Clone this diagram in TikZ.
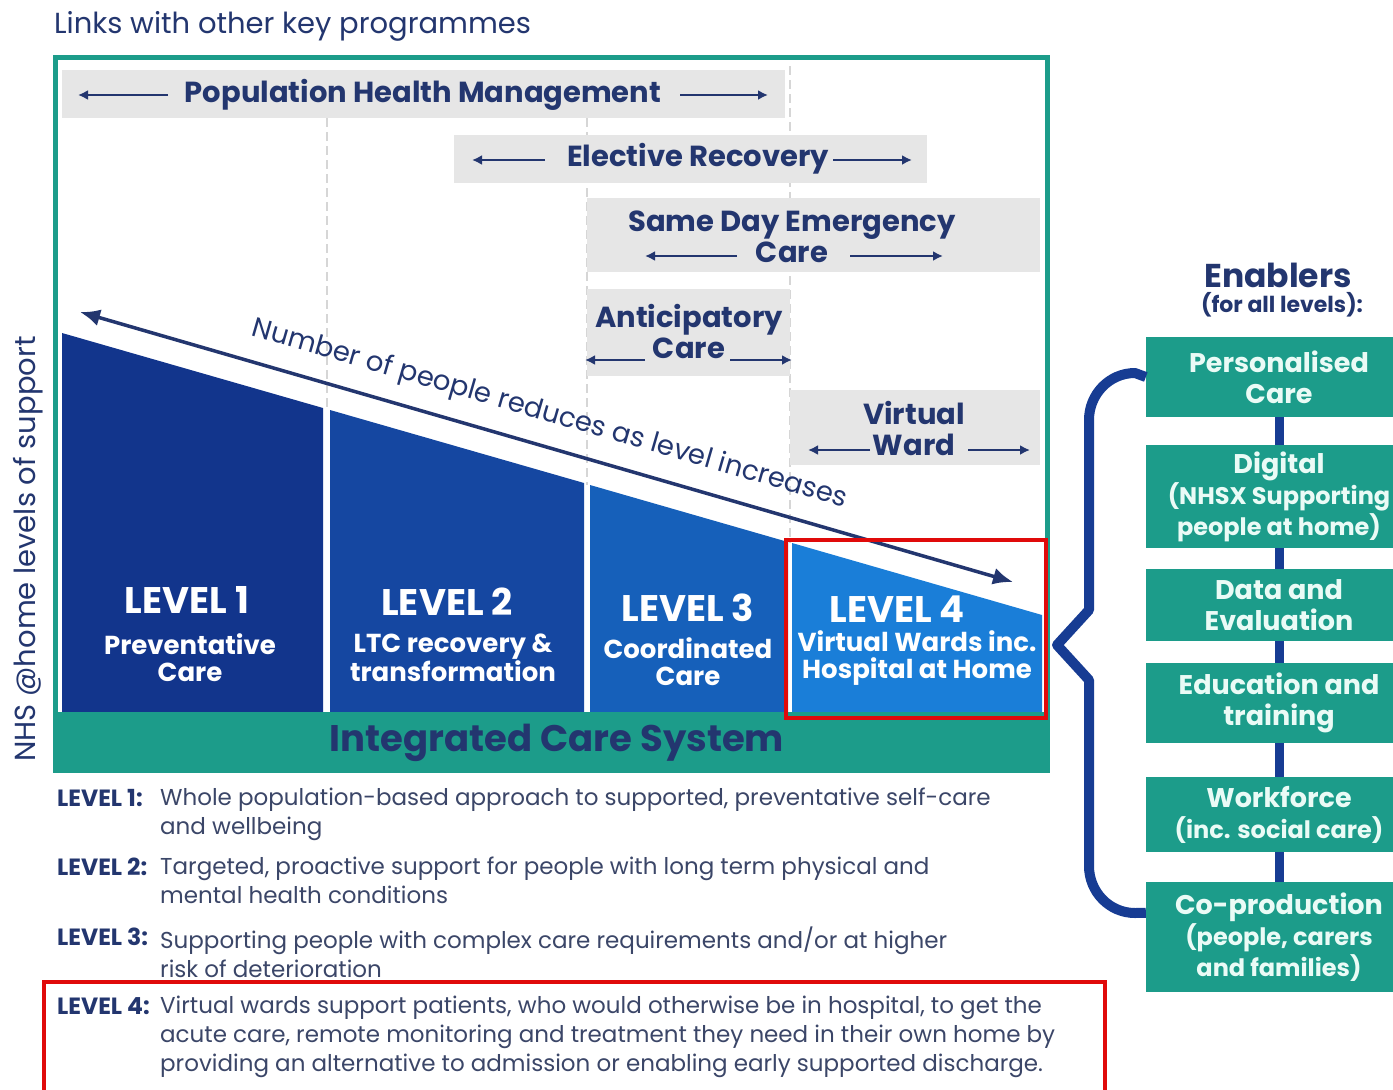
\documentclass[tikz,border=0pt]{standalone}
\usepackage{fontspec}
\setmainfont{Poppins}
\usetikzlibrary{arrows.meta,calc}

\definecolor{inknavy}{HTML}{23366F}
\definecolor{nhsteal}{HTML}{1C9C8A}
\definecolor{bandgrey}{HTML}{E6E6E6}
\definecolor{guidegrey}{HTML}{D6D6D6}
\definecolor{lvlone}{HTML}{12358C}
\definecolor{lvltwo}{HTML}{1547A1}
\definecolor{lvlthree}{HTML}{1660BA}
\definecolor{lvlfour}{HTML}{1A7ED8}
\definecolor{bracenavy}{HTML}{173C93}
\definecolor{alertred}{HTML}{E00A0A}
\definecolor{desctext}{HTML}{3B4668}
\definecolor{mint}{HTML}{EAFBF6}

\newcommand{\setfs}[2]{\fontsize{#1}{#2}\selectfont}

\tikzset{
  band/.style={fill=bandgrey},
  guide/.style={guidegrey, line width=2.5pt, dash pattern=on 9pt off 5pt},
  bandlabel/.style={text=inknavy, font=\setfs{29}{31}\bfseries, align=center, inner sep=0pt},
  bandarrow/.style={inknavy, line width=2.5pt, -{Latex[length=10pt,width=10pt]}},
  lvlhead/.style={text=white, font=\setfs{37}{40}\bfseries, inner sep=0pt},
  lvlsub/.style={text=white, font=\setfs{26}{27}\bfseries, align=center, inner sep=0pt},
  enabler/.style={fill=nhsteal, text=mint, minimum width=266pt, align=center,
    inner sep=0pt, font=\setfs{27}{31}\bfseries},
  linkbar/.style={bracenavy, line width=9pt},
  lvlkey/.style={text=inknavy, font=\setfs{23.5}{29}\bfseries, anchor=north west, inner sep=0pt},
  lvldesc/.style={text=desctext, font=\setfs{23}{29}, anchor=north west, align=left, inner sep=0pt},
  highlight/.style={alertred, line width=4.5pt}
}

\begin{document}
\begin{tikzpicture}[x=1pt,y=-1pt]
\useasboundingbox (0,0) rectangle (1393,1090);
\fill[white] (0,0) rectangle (1393,1090);

\node[anchor=west, text=inknavy, font=\setfs{29}{32}, inner sep=0pt] (links) at (54,26) {Links with other key programmes};

% dashed guides between the levels
\draw[guide] (327,118) -- (327,410);
\draw[guide] (587,118) -- (587,485);
\draw[guide] (790,66) -- (790,543);

% programme bands
\fill[band] (62,70) rectangle (785,118);
\fill[band] (454,135) rectangle (927,183);
\fill[band] (587,198) rectangle (1040,272);
\fill[band] (587,289) rectangle (790,376);
\fill[band] (790,390) rectangle (1040,465);

\node[bandlabel] (phm) at (423,95) {Population Health Management};
\draw[bandarrow] (168,95) -- (78,95);
\draw[bandarrow] (680,95) -- (768,95);

\node[bandlabel] (elective) at (698,159) {Elective Recovery};
\draw[bandarrow] (545,160) -- (472,160);
\draw[bandarrow] (833,160) -- (912,160);

\node[bandlabel] (sdec) at (792,237) {Same Day Emergency\\Care};
\draw[bandarrow] (737,256) -- (645,256);
\draw[bandarrow] (850,256) -- (943,256);

\node[bandlabel] (antic) at (689,331) {Anticipatory\\Care};
\draw[bandarrow] (645,360) -- (585,360);
\draw[bandarrow] (730,360) -- (792,360);

\node[bandlabel] (vward) at (914,428) {Virtual\\Ward};
\draw[bandarrow] (870,450) -- (808,450);
\draw[bandarrow] (968,450) -- (1030,450);

% the four levels
\fill[lvlone] (62,333) -- (323,408) -- (323,712) -- (62,712) -- cycle;
\fill[lvltwo] (330,410) -- (584,483) -- (584,712) -- (330,712) -- cycle;
\fill[lvlthree] (590,485) -- (788,542) -- (788,712) -- (590,712) -- cycle;
\fill[lvlfour] (792,543) -- (1042,615) -- (1042,712) -- (792,712) -- cycle;

\node[lvlhead] (l1) at (187,600) {LEVEL 1};
\node[lvlsub] (l1s) at (190,658) {Preventative\\Care};
\node[lvlhead] (l2) at (447,602) {LEVEL 2};
\node[lvlsub] (l2s) at (453,658) {LTC recovery \&\\transformation};
\node[lvlhead] (l3) at (688,608) {LEVEL 3};
\node[lvlsub] (l3s) at (688,662) {Coordinated\\Care};
\node[lvlhead] (l4) at (897,609) {LEVEL 4};
\node[lvlsub] (l4s) at (917,658) {Virtual Wards inc.\\Hospital at Home};

% frame and ICS bar
\fill[nhsteal] (55,712) rectangle (1047,770);
\draw[nhsteal, line width=5pt] (55,57) rectangle (1047,770);
\node[text=inknavy, font=\setfs{37}{40}\bfseries, inner sep=0pt] (ics) at (557,743) {Integrated Care System};

\node[rotate=90, text=inknavy, font=\setfs{29}{32}, inner sep=0pt] (side) at (28,549) {NHS @home levels of support};

% trend arrow
\coordinate (many) at (80,312);
\coordinate (few) at (1013,582);
\draw[inknavy, line width=3.5pt, {Latex[length=20pt,width=17pt]}-{Latex[length=20pt,width=17pt]}]
  (many) -- node[sloped, above=16pt, xshift=-6pt, text=inknavy, font=\setfs{27.5}{30}, inner sep=0pt] (trend) {Number of people reduces as level increases} (few);

\draw[highlight] (786,540) rectangle (1046,718);

% enablers
\node[text=inknavy, font=\setfs{33}{36}\bfseries, inner sep=0pt] (enab) at (1278,275) {Enablers};
\node[text=inknavy, font=\setfs{22}{26}\bfseries, inner sep=0pt] (enabsub) at (1282,305) {(for all levels):};

\node[enabler, minimum height=80pt] (pers) at (1279,377) {Personalised\\Care};
\node[enabler, minimum height=103pt] (digi) at (1279,496.5) {Digital\\{\setfs{24}{27}(NHSX Supporting}\\{\setfs{24}{27}people at home)}};
\node[enabler, minimum height=72pt] (data) at (1279,605) {Data and\\Evaluation};
\node[enabler, minimum height=80pt] (edu) at (1279,703) {Education and\\training};
\node[enabler, minimum height=75pt] (work) at (1279,814.5) {Workforce\\{\setfs{24}{27}(inc. social care)}};
\node[enabler, minimum height=110pt] (copro) at (1279,937) {Co-production\\{\setfs{24}{27}(people, carers}\\{\setfs{24}{27}and families)}};

\draw[linkbar] (pers) -- (digi);
\draw[linkbar] (digi) -- (data);
\draw[linkbar] (data) -- (edu);
\draw[linkbar] (edu) -- (work);
\draw[linkbar] (work) -- (copro);

\draw[bracenavy, line width=10pt, line join=round]
  (pers.west) -- (1135,373) to[out=180,in=90] (1089,420) -- (1089,610) -- (1057,645)
  -- (1089,680) -- (1089,866) to[out=-90,in=180] (1135,913) -- ($(copro.north west)+(0,31)$);

% level descriptions
\node[lvlkey] (k1) at (57,789) {LEVEL 1:};
\node[lvldesc] (d1) at (160,788) {Whole population-based approach to supported, preventative self-care\\and wellbeing};
\node[lvlkey] (k2) at (57,858) {LEVEL 2:};
\node[lvldesc] (d2) at (160,857) {Targeted, proactive support for people with long term physical and\\mental health conditions};
\node[lvlkey] (k3) at (57,928) {LEVEL 3:};
\node[lvldesc] (d3) at (160,927) {Supporting people with complex care requirements and/or at higher\\risk of deterioration};
\node[lvlkey] (k4) at (57,997) {LEVEL 4:};
\node[lvldesc] (d4) at (160,996) {Virtual wards support patients, who would otherwise be in hospital, to get the\\acute care, remote monitoring and treatment they need in their own home by\\providing an alternative to admission or enabling early supported discharge.};

\draw[highlight] (44,982) rectangle (1105,1100);
\end{tikzpicture}
\end{document}
